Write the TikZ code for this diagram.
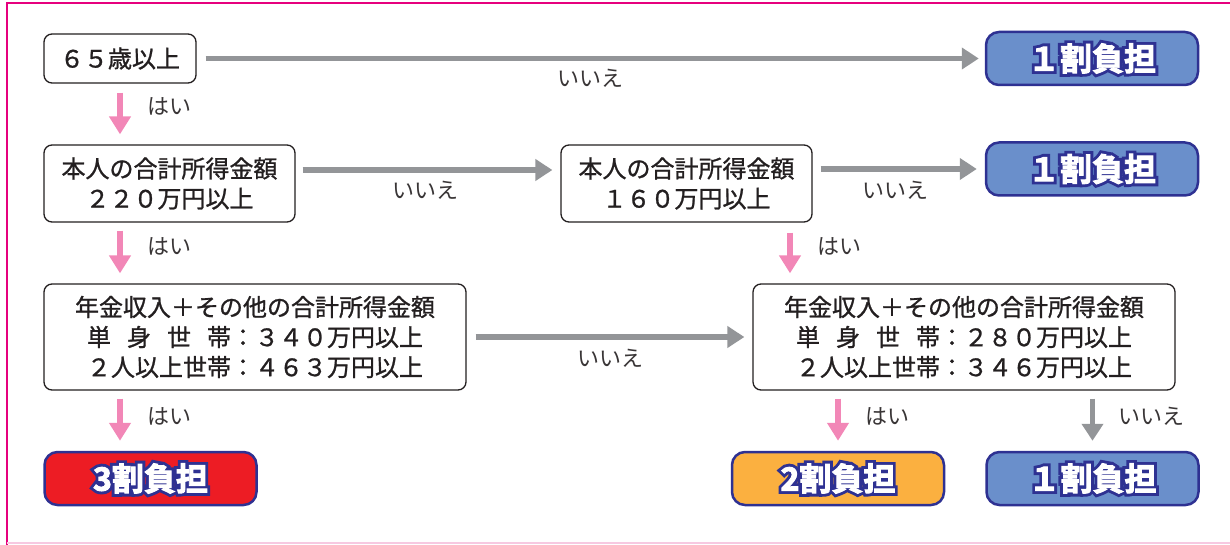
\documentclass[tikz,border=0pt]{standalone}
\usepackage{fontspec}
\newfontfamily\jp{Noto Sans CJK JP}
\newfontfamily\jpm[FakeBold=1]{Noto Sans CJK JP}
\newfontfamily\jpb[FakeBold=3]{Noto Sans CJK JP Bold}
\newfontfamily\jpo[FakeBold=21]{Noto Sans CJK JP Bold}
\usetikzlibrary{arrows.meta}
\definecolor{navy}{HTML}{2E3192}
\definecolor{bluefill}{HTML}{6A8FCB}
\definecolor{redfill}{HTML}{ED1C24}
\definecolor{orangefill}{HTML}{FBB040}
\definecolor{arrgray}{HTML}{939598}
\definecolor{arrpink}{HTML}{F287B7}
\definecolor{framec}{HTML}{E6007E}
\definecolor{framelight}{HTML}{F7C9E1}
\definecolor{txt}{HTML}{231F20}
\tikzset{
  qbox/.style={draw=txt, line width=1.3pt, rounded corners=8pt, fill=white, align=center,
    font=\jpm\fontsize{24}{30}\selectfont, text=txt, inner sep=0pt},
  resbox/.style={draw=navy, line width=2.5pt, rounded corners=13pt, minimum width=212pt,
    minimum height=53pt, inner sep=0pt},
  restext/.style={font=\jpb\fontsize{32}{32}\selectfont, inner sep=0pt, text=white},
  resoutline/.style={font=\jpo\fontsize{32}{32}\selectfont, inner sep=0pt, text=navy},
  yesarrow/.style={arrpink, line width=5.5pt, -{Triangle[width=21pt,length=18pt]}},
  noarrow/.style={arrgray, line width=5.5pt, -{Triangle[width=21pt,length=17pt]}},
  lbl/.style={font=\jp\fontsize{22}{22}\selectfont, text=txt!90, inner sep=0pt}
}
\newcommand\restxt[2]{%
  \node[resoutline] at (#1.center) {#2};
  \node[restext] at (#1.center) {#2};}
\begin{document}
\begin{tikzpicture}[x=1pt,y=-1pt]
\useasboundingbox (0,0) rectangle (1230,545);
% frame
\draw[framec, line width=2pt] (7,545) -- (7,3) -- (1230,3);
\draw[framelight, line width=2pt] (7,543) -- (1230,543);
% question boxes
\node[qbox, minimum width=152pt, minimum height=49pt] (q1) at (120,58.5) {６５歳以上};
\node[qbox, minimum width=251pt, minimum height=77pt] (q2) at (169.5,183.5) {本人の合計所得金額\\２２０万円以上};
\node[qbox, minimum width=251pt, minimum height=77pt] (q3) at (686.5,183.5) {本人の合計所得金額\\１６０万円以上};
\node[qbox, minimum width=422pt, minimum height=106pt] (q4) at (255,337) {年金収入＋その他の合計所得金額\\単\hspace{.667em}身\hspace{.667em}世\hspace{.667em}帯：３４０万円以上\\２人以上世帯：４６３万円以上};
\node[qbox, minimum width=422pt, minimum height=106pt] (q5) at (964,337) {年金収入＋その他の合計所得金額\\単\hspace{.667em}身\hspace{.667em}世\hspace{.667em}帯：２８０万円以上\\２人以上世帯：３４６万円以上};
% result boxes
\node[resbox, fill=bluefill] (r1) at (1092,58.5) {};
\node[resbox, fill=bluefill] (r2) at (1092,169) {};
\node[resbox, fill=redfill] (r3) at (150.5,478.5) {};
\node[resbox, fill=orangefill] (r4) at (838,478.5) {};
\node[resbox, fill=bluefill] (r5) at (1092.5,478.5) {};
\restxt{r1}{１割負担}
\restxt{r2}{１割負担}
\restxt{r3}{3割負担}
\restxt{r4}{2割負担}
\restxt{r5}{１割負担}
% arrows
\draw[noarrow, shorten <=9pt, shorten >=6pt] (q1.east) -- (r1.west);
\node[lbl] (n1) at (590,78) {いいえ};
\draw[yesarrow, shorten <=9pt, shorten >=10pt] (q1.south) -- (q1.south |- q2.north);
\node[lbl, anchor=west] (y1) at (147,106) {はい};
\draw[noarrow, shorten <=7pt, shorten >=8pt] ([yshift=13.5pt]q2.east) -- ([yshift=13.5pt]q3.west);
\node[lbl] (n2) at (425,190) {いいえ};
\draw[noarrow, shorten <=8pt, shorten >=8pt] (q3.east |- r2.west) -- (r2.west);
\node[lbl] (n3) at (895,190) {いいえ};
\draw[yesarrow, shorten <=8pt, shorten >=10pt] (q1.south |- q2.south) -- (q1.south |- q4.north);
\node[lbl, anchor=west] (y2) at (147,246) {はい};
\draw[yesarrow, shorten <=10pt, shorten >=10pt] ([xshift=103.5pt]q3.south) -- ([xshift=103.5pt]q3.south |- q5.north);
\node[lbl, anchor=west] (y3) at (817,246) {はい};
\draw[noarrow, shorten <=9pt, shorten >=8pt] (q4.east) -- (q5.west);
\node[lbl] (n4) at (610,358) {いいえ};
\draw[yesarrow, shorten <=8pt, shorten >=10pt] (q1.south |- q4.south) -- (q1.south |- r3.north);
\node[lbl, anchor=west] (y4) at (147,416) {はい};
\draw[yesarrow, shorten <=8pt, shorten >=10pt] (r4.north |- q5.south) -- (r4.north);
\node[lbl, anchor=west] (y5) at (865,416) {はい};
\draw[noarrow, shorten <=8pt, shorten >=10pt] (r5.north |- q5.south) -- (r5.north);
\node[lbl, anchor=west] (n5) at (1118,416) {いいえ};
\end{tikzpicture}
\end{document}
